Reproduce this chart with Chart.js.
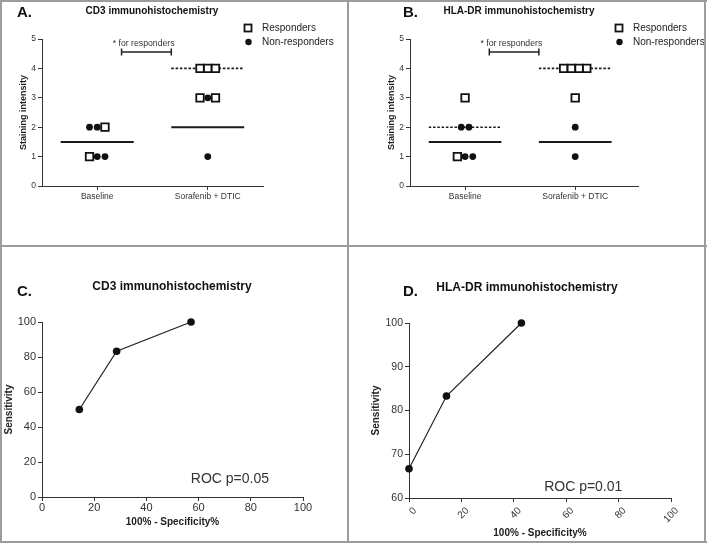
<!DOCTYPE html>
<html>
<head>
<meta charset="utf-8">
<script src="https://cdn.jsdelivr.net/npm/chart.js@4.4.1/dist/chart.umd.min.js"></script>
<style>
  body { margin: 0; background: #fff; }
  #fig { position: relative; width: 707px; height: 543px; overflow: hidden; background: #fff; }
  canvas { position: absolute; }
  .ln { position: absolute; background: #9c9c9c; }
</style>
</head>
<body>
<div id="fig">
  <canvas id="cA" width="348" height="246" style="left:0;top:0"></canvas>
  <canvas id="cB" width="359" height="246" style="left:348px;top:0"></canvas>
  <canvas id="cC" width="348" height="297" style="left:0;top:246px"></canvas>
  <canvas id="cD" width="359" height="297" style="left:348px;top:246px"></canvas>
  <div class="ln" style="left:0;top:0;width:707px;height:2px"></div>
  <div class="ln" style="left:0;top:541px;width:707px;height:2px"></div>
  <div class="ln" style="left:0;top:0;width:2px;height:543px"></div>
  <div class="ln" style="left:704px;top:0;width:2px;height:543px"></div>
  <div class="ln" style="left:347px;top:0;width:2px;height:543px"></div>
  <div class="ln" style="left:0;top:245px;width:707px;height:2px"></div>
</div>
<script>
// staining scores, row by row in the order the symbols sit left to right
const categories = ['Baseline', 'Sorafenib + DTIC'];
const stainTicks = [0, 1, 2, 3, 4, 5];

const cd3BaseScore = [2, 2, 2, 1, 1, 1];
const cd3BaseGroup = ['N', 'N', 'R', 'R', 'N', 'N'];
const cd3TreatScore = [4, 4, 4, 3, 3, 3, 1];
const cd3TreatGroup = ['R', 'R', 'R', 'R', 'N', 'R', 'N'];
const cd3MedianResp = [1.5, 4];
const cd3MedianNon = [1.5, 2];

const hlaBaseScore = [3, 2, 2, 1, 1, 1];
const hlaBaseGroup = ['R', 'N', 'N', 'R', 'N', 'N'];
const hlaTreatScore = [4, 4, 4, 4, 3, 2, 1];
const hlaTreatGroup = ['R', 'R', 'R', 'R', 'R', 'N', 'N'];
const hlaMedianResp = [2, 4];
const hlaMedianNon = [1.5, 1.5];

// ROC curves
const cd3RocX = [14.3, 28.6, 57.1];
const cd3RocY = [50, 83.3, 100];
const hlaRocX = [0, 14.3, 42.9];
const hlaRocY = [66.7, 83.3, 100];

const FONT = "'Liberation Sans', Arial, sans-serif";
Chart.defaults.font.family = FONT;
Chart.defaults.color = '#333';

const JITTER = 0.07;
const HALF = 0.33;

function spread(scores, groups, cat, out) {
  const rows = {};
  scores.forEach((s, i) => { (rows[s] = rows[s] || []).push(groups[i]); });
  Object.keys(rows).forEach(s => {
    const row = rows[s];
    row.forEach((g, i) => {
      const pt = { x: cat + (i - (row.length - 1) / 2) * JITTER, y: +s };
      (g === 'R' ? out.resp : out.non).push(pt);
    });
  });
}

function medianSets(values, dashed) {
  return values.map((m, i) => ({
    data: [{ x: i - HALF, y: m }, { x: i + HALF, y: m }],
    showLine: true,
    borderColor: '#1a1a1a',
    borderWidth: dashed ? 1.6 : 2,
    borderDash: dashed ? [2.5, 1.8] : [],
    pointRadius: 0,
    clip: false,
    order: dashed ? 3 : 2
  }));
}

function decor(d) {
  return {
    id: 'decor',
    afterDraw(chart) {
      const ctx = chart.ctx;
      const xs = chart.scales.x, ys = chart.scales.y;
      ctx.save();
      ctx.fillStyle = '#111';
      ctx.textBaseline = 'middle';
      ctx.textAlign = 'left';
      ctx.font = 'bold 15px ' + FONT;
      ctx.fillText(d.letter, d.letterX, d.letterY);
      ctx.textAlign = 'center';
      ctx.font = 'bold ' + d.titleSize + 'px ' + FONT;
      ctx.fillText(d.title, d.titleX, d.titleY);

      if (d.legendX) {
        ctx.strokeStyle = '#111';
        ctx.lineWidth = 1.8;
        ctx.fillStyle = '#fff';
        ctx.fillRect(d.legendX - 3.5, 24.5, 7, 7);
        ctx.strokeRect(d.legendX - 3.5, 24.5, 7, 7);
        ctx.fillStyle = '#111';
        ctx.beginPath();
        ctx.arc(d.legendX + 0.5, 42, 3.2, 0, Math.PI * 2);
        ctx.fill();
        ctx.fillStyle = '#222';
        ctx.textAlign = 'left';
        ctx.font = '10px ' + FONT;
        ctx.fillText('Responders', d.legendX + 14, 28);
        ctx.fillText('Non-responders', d.legendX + 14, 42);

        // significance bracket
        const x0 = xs.getPixelForValue(0.22), x1 = xs.getPixelForValue(0.67);
        const yb = ys.getPixelForValue(4.56);
        ctx.strokeStyle = '#222';
        ctx.lineWidth = 1.5;
        ctx.beginPath();
        ctx.moveTo(x0, yb); ctx.lineTo(x1, yb);
        ctx.moveTo(x0, yb - 3.5); ctx.lineTo(x0, yb + 3.5);
        ctx.moveTo(x1, yb - 3.5); ctx.lineTo(x1, yb + 3.5);
        ctx.stroke();
        ctx.fillStyle = '#333';
        ctx.textAlign = 'center';
        ctx.font = '8.7px ' + FONT;
        ctx.fillText('* for responders', xs.getPixelForValue(0.42), ys.getPixelForValue(4.86));
      }

      if (d.roc) {
        ctx.fillStyle = '#333';
        ctx.textAlign = 'center';
        ctx.font = '14px ' + FONT;
        ctx.fillText(d.roc, xs.getPixelForValue(d.rocAt[0]), ys.getPixelForValue(d.rocAt[1]));
      }
      ctx.restore();
    }
  };
}

function axisBase() {
  return {
    grid: { drawOnChartArea: false, tickLength: 4, color: '#333', lineWidth: 1 },
    border: { color: '#333', width: 1 }
  };
}

function stainingChart(id, base, treat, medResp, medNon, cfg) {
  const pts = { resp: [], non: [] };
  spread(base[0], base[1], 0, pts);
  spread(treat[0], treat[1], 1, pts);
  const datasets = [
    { data: pts.resp, pointStyle: 'rect', pointRadius: 5.3, backgroundColor: '#fff',
      borderColor: '#111', borderWidth: 1.8, clip: false, order: 0 },
    { data: pts.non, pointStyle: 'circle', pointRadius: 3.4, backgroundColor: '#111',
      borderWidth: 0, clip: false, order: 1 }
  ].concat(medianSets(medResp, true), medianSets(medNon, false));

  new Chart(document.getElementById(id), {
    type: 'scatter',
    data: { datasets },
    options: {
      responsive: false, animation: false,
      layout: { padding: { left: 0, top: 39, right: cfg.padRight, bottom: 0 } },
      plugins: { legend: { display: false }, tooltip: { enabled: false } },
      scales: {
        x: Object.assign(axisBase(), {
          type: 'linear', min: -0.5, max: cfg.xMax,
          afterFit: s => { s.height = 60; },
          afterBuildTicks: s => { s.ticks = categories.map((c, i) => ({ value: i })); },
          ticks: { callback: v => categories[v], font: { size: 8.5 }, color: '#333', padding: 2 }
        }),
        y: Object.assign(axisBase(), {
          min: 0, max: 5,
          afterFit: s => { s.width = cfg.yWidth; },
          afterBuildTicks: s => { s.ticks = stainTicks.map(v => ({ value: v })); },
          ticks: { font: { size: 8.5 }, color: '#333', padding: 2 },
          title: { display: true, text: 'Staining intensity', color: '#222',
                   font: { size: 9, weight: 'bold' }, padding: { top: cfg.titlePad, bottom: 0 } }
        })
      }
    },
    plugins: [decor(cfg.decor)]
  });
}

function rocChart(id, xs, ys, cfg) {
  new Chart(document.getElementById(id), {
    type: 'scatter',
    data: {
      datasets: [{
        data: xs.map((x, i) => ({ x, y: ys[i] })),
        showLine: true, borderColor: '#222', borderWidth: 1.2, clip: false,
        pointRadius: 3.8, pointBackgroundColor: '#111', pointBorderWidth: 0
      }]
    },
    options: {
      responsive: false, animation: false,
      layout: { padding: { left: 0, top: cfg.top, right: cfg.padRight, bottom: 0 } },
      plugins: { legend: { display: false }, tooltip: { enabled: false } },
      scales: {
        x: Object.assign(axisBase(), {
          min: 0, max: 100,
          afterFit: s => { s.height = cfg.xHeight; },
          ticks: Object.assign({ stepSize: 20, font: { size: cfg.xTickSize }, color: '#333', padding: 0 }, cfg.xTicks),
          title: { display: true, text: '100% - Specificity%', color: '#222',
                   font: { size: 10, weight: 'bold' }, padding: { top: 0, bottom: cfg.xTitlePad } }
        }),
        y: Object.assign(axisBase(), {
          min: cfg.yMin, max: 100,
          afterFit: s => { s.width = cfg.yWidth; },
          ticks: { stepSize: cfg.yStep, font: { size: cfg.yTickSize }, color: '#333', padding: 2 },
          title: { display: true, text: 'Sensitivity', color: '#222',
                   font: { size: 10, weight: 'bold' }, padding: { top: cfg.yTitlePad, bottom: 0 } }
        })
      }
    },
    plugins: [decor(cfg.decor)]
  });
}

stainingChart('cA', [cd3BaseScore, cd3BaseGroup], [cd3TreatScore, cd3TreatGroup],
  cd3MedianResp, cd3MedianNon, {
    padRight: 85, xMax: 1.5, yWidth: 42, titlePad: 18.6,
    decor: { letter: 'A.', letterX: 17, letterY: 13, title: 'CD3 immunohistochemistry',
             titleSize: 10, titleX: 152, titleY: 11, legendX: 248 }
  });

stainingChart('cB', [hlaBaseScore, hlaBaseGroup], [hlaTreatScore, hlaTreatGroup],
  hlaMedianResp, hlaMedianNon, {
    padRight: 69, xMax: 1.57, yWidth: 62, titlePad: 38.6,
    decor: { letter: 'B.', letterX: 55, letterY: 13, title: 'HLA-DR immunohistochemistry',
             titleSize: 10, titleX: 171, titleY: 11, legendX: 271 }
  });

rocChart('cC', cd3RocX, cd3RocY, {
  top: 76, padRight: 45, xHeight: 46, yWidth: 42, yMin: 0, yStep: 20,
  xTickSize: 11, yTickSize: 11, xTitlePad: 15, yTitlePad: 3, xTicks: {},
  decor: { letter: 'C.', letterX: 17, letterY: 46, title: 'CD3 immunohistochemistry',
           titleSize: 12, titleX: 172, titleY: 41, roc: 'ROC p=0.05', rocAt: [72, 10] }
});

rocChart('cD', hlaRocX, hlaRocY, {
  top: 77, padRight: 36, xHeight: 45, yWidth: 61, yMin: 60, yStep: 10,
  xTickSize: 10, yTickSize: 10.5, xTitlePad: 4, yTitlePad: 22,
  xTicks: { minRotation: 45, maxRotation: 45, labelOffset: 6, padding: 3 },
  decor: { letter: 'D.', letterX: 55, letterY: 46, title: 'HLA-DR immunohistochemistry',
           titleSize: 12, titleX: 179, titleY: 42, roc: 'ROC p=0.01', rocAt: [66.5, 62.5] }
});
</script>
</body>
</html>
